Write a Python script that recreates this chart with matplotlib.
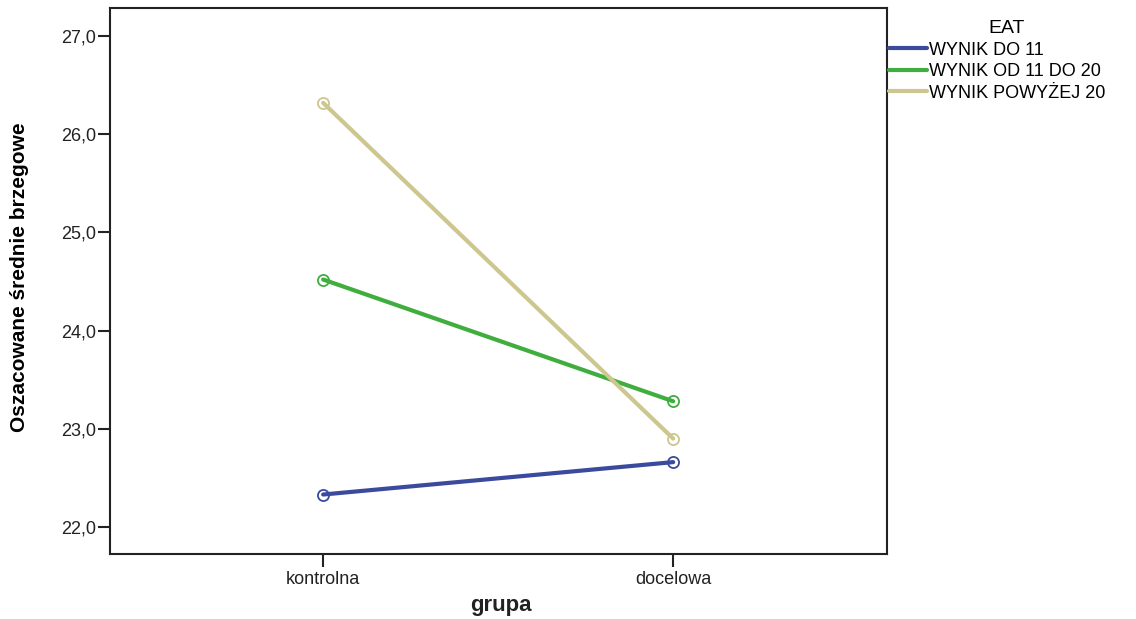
import matplotlib.pyplot as plt
from matplotlib.ticker import FuncFormatter

# grupy na osi X i średnie brzegowe dla poziomów EAT
grupy = ['kontrolna', 'docelowa']
serie = ['WYNIK DO 11', 'WYNIK OD 11 DO 20', 'WYNIK POWYŻEJ 20']
wynik_do_11 = [22.33, 22.66]
wynik_11_20 = [24.52, 23.28]
wynik_pow_20 = [26.32, 22.90]
kolory = ['#3a4b9e', '#3fae3f', '#cdc68e']

plt.rcParams['font.family'] = ['Liberation Sans', 'DejaVu Sans']

fig = plt.figure(figsize=(11.36, 6.19), dpi=100, facecolor='w')
ax = fig.add_axes([110/1136, 1 - 554/619, 777/1136, 546/619])

x = list(range(len(grupy)))
for y, kol, lab in zip([wynik_do_11, wynik_11_20, wynik_pow_20], kolory, serie):
    ax.plot(x, y, color=kol, lw=3, label=lab, solid_capstyle='round')
    ax.plot(x, y, 'o', ms=8, mfc='none', mec=kol, mew=1.3)

ax.set_xlim(-0.609, 1.611)
ax.set_ylim(21.724, 27.286)
ax.set_xticks(x)
ax.set_xticklabels(grupy)
ax.set_yticks([22, 23, 24, 25, 26, 27])
ax.yaxis.set_major_formatter(FuncFormatter(lambda v, p: f'{v:.1f}'.replace('.', ',')))
ax.tick_params(axis='y', labelsize=13, length=9, width=1.5, pad=1, colors='#222222')
ax.tick_params(axis='x', labelsize=13, length=9, width=1.5, pad=3, colors='#222222')
for s in ax.spines.values():
    s.set_linewidth(1.5)
    s.set_color('#222222')

fig.text(501/1136, 1 - 605/619, 'grupa', ha='center', va='center',
         fontsize=16, fontweight='bold', color='#222222')
fig.text(20/1136, 1 - 277/619, 'Oszacowane średnie brzegowe', rotation=90,
         ha='center', va='center', fontsize=15, fontweight='bold',
         family=['Liberation Sans Narrow', 'Liberation Sans'])

leg = ax.legend(loc='upper left', bbox_to_anchor=(889/1136, 1 - 20/619),
                bbox_transform=fig.transFigure, frameon=False,
                title='EAT', fontsize=13, title_fontsize=14,
                handlelength=2.1, handletextpad=0.1, labelspacing=0.25,
                borderaxespad=0, borderpad=0)
leg._legend_box.align = 'center'
leg.get_title().set_position((10, 0))

fig.savefig('out.png', dpi=100)
